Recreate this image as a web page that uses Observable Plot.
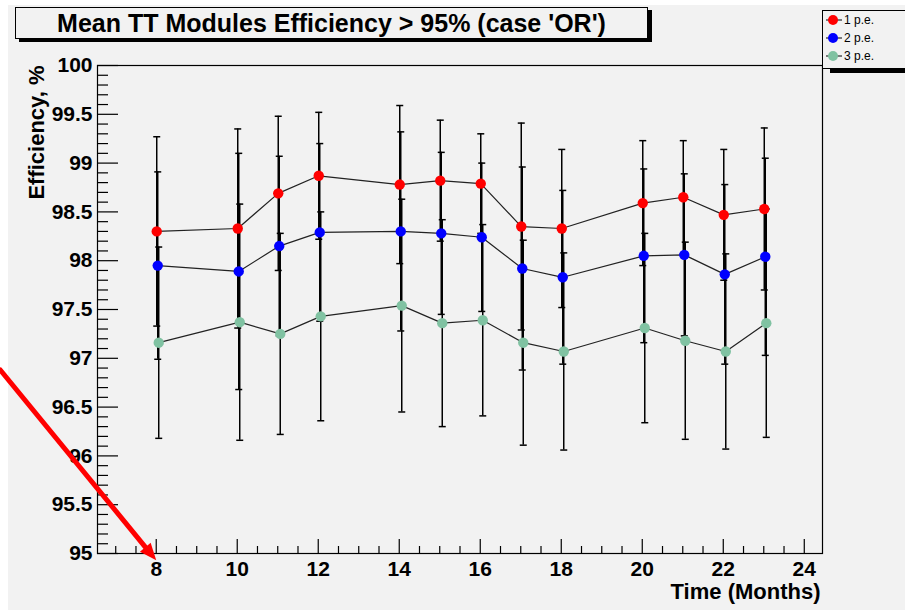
<!DOCTYPE html>
<html>
<head>
<meta charset="utf-8">
<script src="https://cdn.jsdelivr.net/npm/d3@7"></script>
<script src="https://cdn.jsdelivr.net/npm/@observablehq/plot@0.6"></script>
<style>
  body { margin: 0; background: #fff; font-family: "Liberation Sans", Arial, Helvetica, sans-serif; }
  #canvas { position: relative; width: 905px; height: 610px; overflow: hidden; }
  #pad { position: absolute; left: 8px; top: 5px; right: 0; bottom: 0; background: #f2f2f2; }
  #chart { position: absolute; left: 0; top: 0; }
  #title {
    position: absolute; left: 15px; top: 7px; width: 631px; height: 30px;
    border: 1px solid #000; box-shadow: 4px 3px 0 #000; background: #f2f2f2;
    font-weight: bold; font-size: 25px; line-height: 31px; text-align: center; color: #000;
  }
  #legend {
    position: absolute; left: 822px; top: 10px; width: 100px; height: 57px;
    border: 1px solid #000; box-shadow: 8px 4px 0 #000; background: #f2f2f2;
    font-size: 12px; color: #000;
  }
  .entry { position: absolute; left: 0; height: 18px; display: flex; align-items: center; }
  .entry svg { display: block; }
</style>
</head>
<body>
<div id="canvas">
  <div id="pad"></div>
  <div id="chart"></div>
  <div id="title">Mean TT Modules Efficiency &gt; 95% (case 'OR')</div>
  <div id="legend"></div>
</div>
<script>
// Measurement months
const months = [8, 10, 11, 12, 14, 15, 16, 17, 18, 20, 21, 22, 23];

// Mean efficiency (%) and its error, per photo-electron threshold
const eff1pe = [98.30, 98.33, 98.69, 98.87, 98.78, 98.82, 98.79, 98.35, 98.33, 98.59, 98.65, 98.47, 98.53];
const err1pe = [0.97, 1.02, 0.79, 0.65, 0.81, 0.62, 0.51, 1.06, 0.81, 0.64, 0.58, 0.67, 0.83];
const eff2pe = [97.95, 97.89, 98.15, 98.29, 98.30, 98.28, 98.24, 97.92, 97.83, 98.05, 98.06, 97.86, 98.04];
const err2pe = [0.96, 1.21, 0.92, 0.91, 1.02, 0.83, 0.76, 1.04, 0.89, 0.89, 0.83, 0.92, 1.01];
const eff3pe = [97.16, 97.37, 97.25, 97.43, 97.54, 97.36, 97.39, 97.16, 97.07, 97.31, 97.18, 97.07, 97.36];
const err3pe = [0.98, 1.21, 1.03, 1.07, 1.09, 1.06, 0.98, 1.05, 1.01, 0.97, 1.01, 1.00, 1.17];

const seriesNames = ["1 p.e.", "2 p.e.", "3 p.e."];
const seriesColors = ["#ff0000", "#0000ff", "#80c2a2"];

// Axis ticks
const xTicks = [8, 10, 12, 14, 16, 18, 20, 22, 24];
const yTicks = [95, 95.5, 96, 96.5, 97, 97.5, 98, 98.5, 99, 99.5, 100];
const xMinor = d3.range(7, 24, 0.5).filter(v => !xTicks.includes(v));
const yMinor = d3.range(951, 1000).map(v => v / 10).filter(v => Math.round(v * 10) % 5 !== 0);

// Annotation arrow pointing at month 8 on the time axis
const pointer = [{x1: 4.15, y1: 96.88, x2: 8, y2: 94.93}];

const series = [[eff1pe, err1pe], [eff2pe, err2pe], [eff3pe, err3pe]].map(([eff, err], i) =>
  months.map((m, j) => ({series: seriesNames[i], month: m, eff: eff[j], err: err[j]}))
);

// Short horizontal end cap for the error bars
const cap = {draw(ctx) { ctx.moveTo(-3.5, 0); ctx.lineTo(3.5, 0); }};
// Filled triangular arrow head, tip at the origin, pointing up
const head = {draw(ctx) { ctx.moveTo(0, 0); ctx.lineTo(-7, 17); ctx.lineTo(7, 17); ctx.closePath(); }};

const shift = [0.5, 1.5, 2.5];
const marks = [];

// error bars
series.forEach((d, i) => {
  marks.push(
    Plot.ruleX(d, {x: "month", y1: r => r.eff - r.err, y2: r => r.eff + r.err, stroke: "#000", strokeWidth: 1.5, dx: shift[i]}),
    Plot.dot(d, {x: "month", y: r => r.eff + r.err, symbol: cap, r: 3, fill: "none", stroke: "#000", strokeWidth: 1.5, dx: shift[i]}),
    Plot.dot(d, {x: "month", y: r => r.eff - r.err, symbol: cap, r: 3, fill: "none", stroke: "#000", strokeWidth: 1.5, dx: shift[i]})
  );
});
// connecting lines
series.forEach((d, i) => {
  marks.push(Plot.line(d, {x: "month", y: "eff", stroke: "#222", strokeWidth: 1.2, dx: shift[i]}));
});
// markers
series.forEach((d, i) => {
  marks.push(Plot.dot(d, {x: "month", y: "eff", r: 5.2, fill: seriesColors[i], stroke: "none", dx: shift[i]}));
});

const chart = Plot.plot({
  width: 905,
  height: 610,
  marginLeft: 97,
  marginRight: 83,
  marginTop: 65,
  marginBottom: 57,
  style: {background: "transparent", overflow: "visible", fontFamily: "'Liberation Sans', Arial, Helvetica, sans-serif", color: "#000"},
  x: {domain: [6.55, 24.45]},
  y: {domain: [95, 100]},
  marks: [
    Plot.frame({stroke: "#000", strokeWidth: 1.2}),
    Plot.axisY(yMinor, {tickSize: -11, tickFormat: () => "", label: null, strokeWidth: 1.2}),
    Plot.axisY(yTicks, {tickSize: -21, tickPadding: 26, tickFormat: d => `${d}`, fontSize: 21, fontWeight: "bold", label: null, strokeWidth: 1.2}),
    Plot.axisX(xMinor, {tickSize: -7, tickFormat: () => "", label: null, strokeWidth: 1.2}),
    Plot.axisX(xTicks, {tickSize: -14, tickPadding: 22, tickFormat: d => `${d}`, fontSize: 21, fontWeight: "bold", label: null, strokeWidth: 1.2}),
    Plot.text(["Efficiency, %"], {frameAnchor: "top-left", rotate: -90, textAnchor: "end", dx: -69, fontSize: 22, fontWeight: "bold"}),
    Plot.text(["Time (Months)"], {frameAnchor: "bottom-right", textAnchor: "end", dx: -2, dy: 45, fontSize: 22, fontWeight: "bold"}),
    ...marks,
    Plot.arrow(pointer, {x1: "x1", y1: "y1", x2: "x2", y2: "y2", stroke: "#ff0000", strokeWidth: 5, headLength: 0, insetEnd: 12, clip: false}),
    Plot.dot(pointer, {x: "x2", y: "y2", symbol: head, r: 5, fill: "#ff0000", stroke: "none", rotate: 140, clip: false})
  ]
});
document.getElementById("chart").appendChild(chart);

// Legend
const legend = d3.select("#legend");
seriesNames.forEach((name, i) => {
  const row = legend.append("div").attr("class", "entry").style("top", `${i * 18}px`);
  const svg = row.append("svg").attr("width", 21).attr("height", 18);
  svg.append("line").attr("x1", 3).attr("x2", 19).attr("y1", 9).attr("y2", 9).attr("stroke", "#000").attr("stroke-width", 1);
  svg.append("circle").attr("cx", 10).attr("cy", 9).attr("r", 5).attr("fill", seriesColors[i]);
  row.append("span").text(name);
});
</script>
</body>
</html>
